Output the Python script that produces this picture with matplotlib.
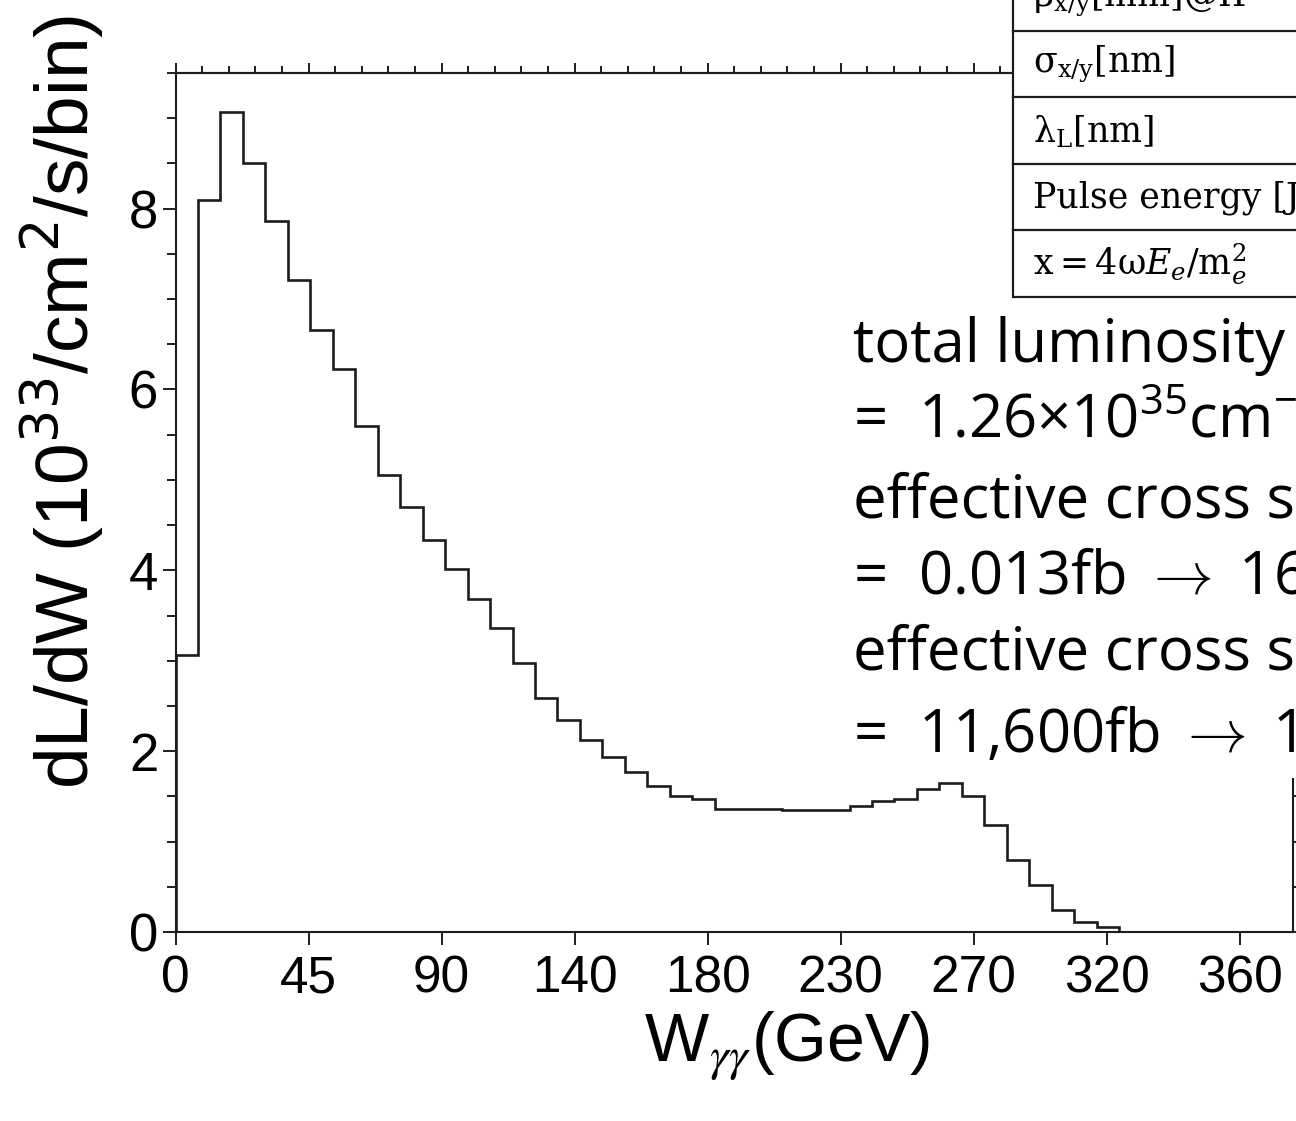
import matplotlib
matplotlib.use('Agg')
import matplotlib.pyplot as plt
from matplotlib.patches import Rectangle
from matplotlib.lines import Line2D
from matplotlib.ticker import MultipleLocator, FixedLocator, NullLocator
import numpy as np

# dL/dW per bin (10^33 /cm^2/s/bin), bins of 7.6 GeV starting at 0
lumi_per_bin = [3.06, 8.10, 9.07, 8.51, 7.86, 7.21, 6.66, 6.23, 5.60, 5.05,
                4.70, 4.34, 4.01, 3.68, 3.36, 2.98, 2.59, 2.35, 2.12, 1.94,
                1.77, 1.61, 1.50, 1.47, 1.36, 1.36, 1.36, 1.35, 1.35, 1.35,
                1.39, 1.45, 1.47, 1.58, 1.65, 1.50, 1.18, 0.80, 0.52, 0.24,
                0.11, 0.05]
bin_width = 7.6
x_ticks = [0, 45, 90, 135, 180, 225, 270, 315, 360]
x_tick_labels = ['0', '45', '90', '140', '180', '230', '270', '320', '360']
y_ticks = [0, 2, 4, 6, 8]

table_rows = [
    r'$\mathrm{\beta}_{\mathrm{x/y}}$[mm]@IP',
    r'$\mathrm{\sigma}_{\mathrm{x/y}}$[nm]',
    r'$\mathrm{\lambda}_{\mathrm{L}}$[nm]',
    'Pulse energy [J]',
    r'$\mathrm{x} = 4\mathrm{\omega} E_e/\mathrm{m}_e^2$',
]
summary_lines = [
    'total luminosity',
    r'=  1.26×10$^{35}$cm$^{-2}$s$^{-1}$',
    'effective cross section',
    r'=  0.013fb $\rightarrow$ 16',
    'effective cross section',
    r'=  11,600fb $\rightarrow$ 1',
]

W, H = 1296, 1121
INK = '#1c1c1c'


def fx(px):
    return px / W


def fy(py):
    return 1 - py / H


plt.rcParams['font.family'] = ['Liberation Sans', 'DejaVu Sans']
plt.rcParams['mathtext.fontset'] = 'custom'
plt.rcParams['mathtext.rm'] = 'Open Sans'
plt.rcParams['mathtext.it'] = 'Open Sans:italic'

fig = plt.figure(figsize=(W / 100, H / 100), dpi=100)
ax = fig.add_axes([fx(175.5), fy(932), fx(1293) - fx(175.5), fy(73) - fy(932)])

edges = np.arange(len(lumi_per_bin) + 1) * bin_width
ax.stairs(lumi_per_bin, edges, baseline=0, color=INK, linewidth=1.9)

ax.set_xlim(0, 378)
ax.set_ylim(0, 9.5)
for s in ax.spines.values():
    s.set_linewidth(1.5)
    s.set_color(INK)

ax.set_xticks(x_ticks)
ax.set_xticklabels(x_tick_labels)
ax.xaxis.set_minor_locator(NullLocator())
ax.set_yticks(y_ticks)
ax.yaxis.set_minor_locator(MultipleLocator(0.5))
ax.tick_params(axis='x', which='major', direction='out', length=9.5, width=1.4,
               pad=7, labelsize=37, top=False, color=INK)
ax.tick_params(axis='y', which='major', direction='out', length=9.5, width=1.4,
               pad=3, labelsize=38, right=True, color=INK)
ax.tick_params(axis='y', which='minor', direction='out', length=6.5, width=1.4,
               right=True, color=INK)

sec = ax.secondary_xaxis('top')
sec.xaxis.set_major_locator(FixedLocator(x_ticks))
sec.xaxis.set_minor_locator(MultipleLocator(9))
sec.tick_params(which='major', direction='out', length=7.5, width=1.4,
                labeltop=False, color=INK)
sec.tick_params(which='minor', direction='out', length=5, width=1.4, color=INK)
sec.spines['top'].set_linewidth(1.5)

fig.text(fx(62), fy(402), r'dL/dW (10$^{33}$/cm$^{2}$/s/bin)', rotation=90,
         ha='center', va='center', fontsize=54, math_fontfamily='dejavusans')
fig.text(fx(787), fy(1062), r'W$_{\gamma\gamma}$(GeV)', ha='center',
         va='baseline', fontsize=49, math_fontfamily='stix')

# white patch behind the summary text
fig.add_artist(Rectangle((fx(845), fy(778)), fx(1296) - fx(845), fy(298) - fy(778),
                         transform=fig.transFigure, facecolor='white',
                         edgecolor='none', zorder=1))

# parameter table in the top right corner
fig.add_artist(Rectangle((fx(1013), fy(297.3)), fx(1400) - fx(1013), fy(-60) - fy(297.3),
                         transform=fig.transFigure, facecolor='white',
                         edgecolor=INK, linewidth=1.6, zorder=2))
for yl in [30.7, 97.3, 164, 230]:
    fig.add_artist(Line2D([fx(1013), fx(1400)], [fy(yl), fy(yl)],
                          transform=fig.transFigure, color=INK, linewidth=1.6, zorder=2))
row_centres = [-2, 64.7, 131.3, 197.5, 264]
for txt, yc in zip(table_rows, row_centres):
    fig.text(fx(1033), fy(yc), txt, ha='left', va='center', fontsize=25,
             family=['DejaVu Serif'], math_fontfamily='dejavuserif', zorder=3)

baselines = [362, 437, 517, 593, 670, 752]
for txt, yb in zip(summary_lines, baselines):
    extra = {'math_fontfamily': 'cm'} if 'rightarrow' in txt else {}
    fig.text(fx(853), fy(yb), txt, ha='left', va='baseline', fontsize=43,
             family=['Open Sans', 'DejaVu Sans'], zorder=3, **extra)

fig.savefig('out.png', dpi=100)
plt.close(fig)
